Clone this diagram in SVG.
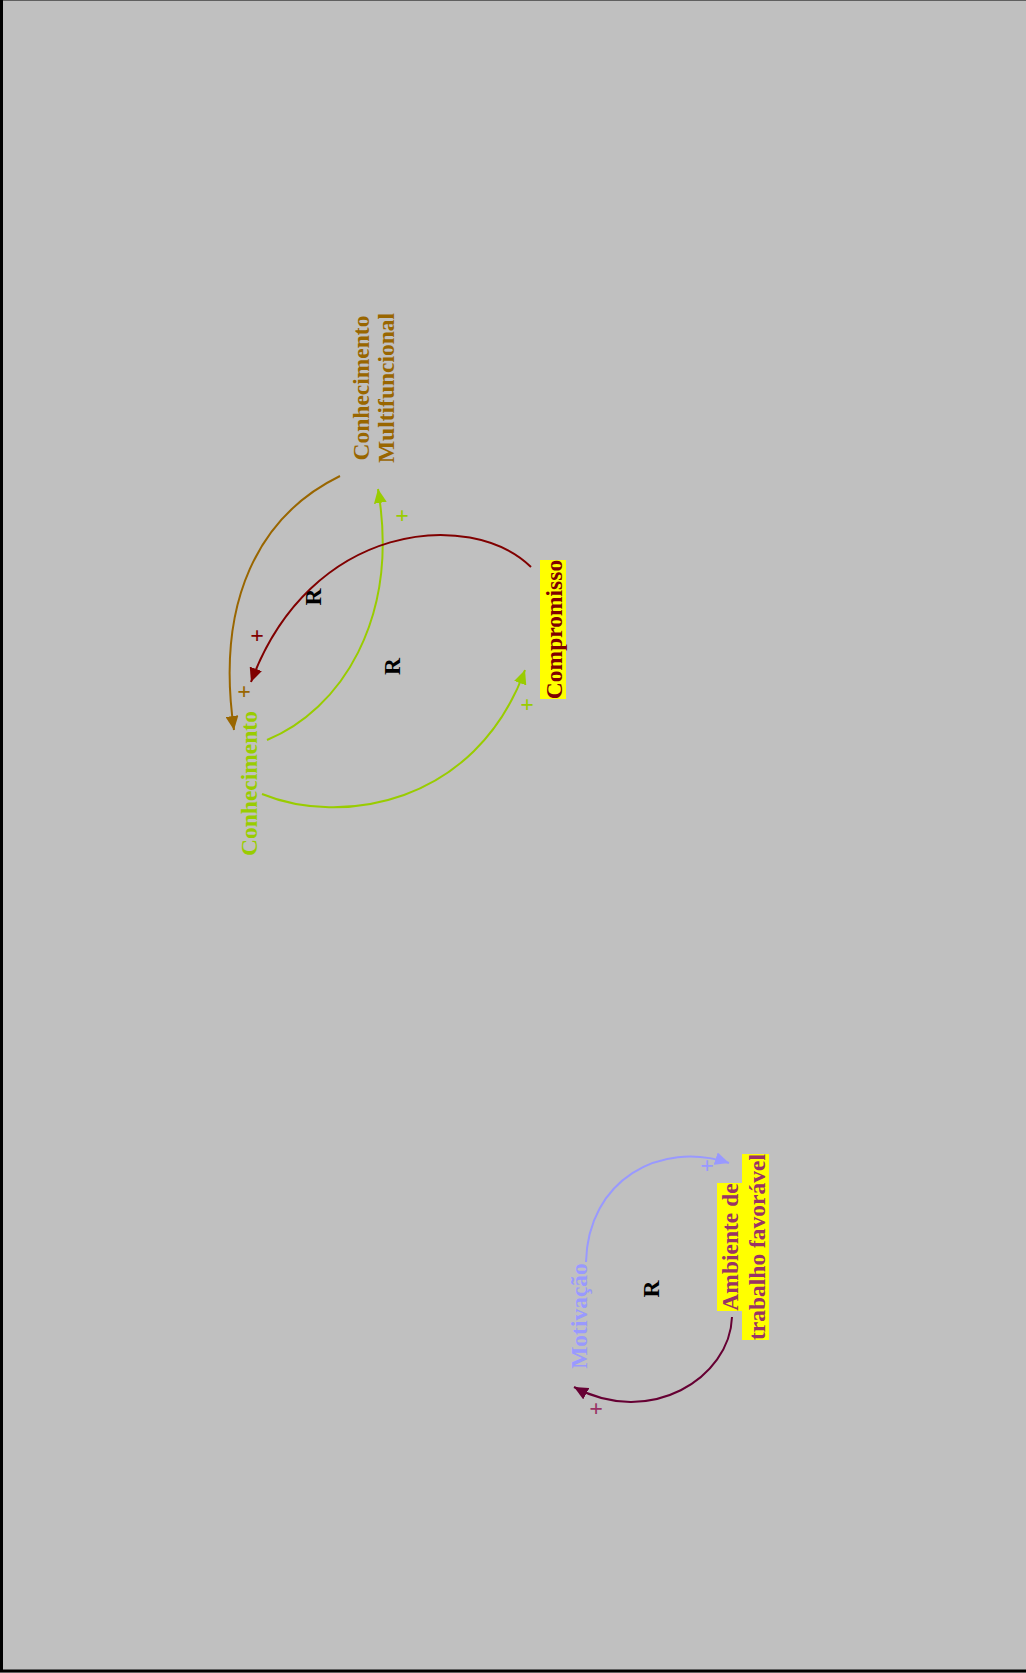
<svg xmlns="http://www.w3.org/2000/svg" width="1026" height="1673" viewBox="0 0 1026 1673">
<style>
.lbl{font-family:"Liberation Serif","Times New Roman",serif;font-weight:bold;font-size:23.5px;text-anchor:middle}
.pl{font-family:"Liberation Serif","Times New Roman",serif;font-weight:bold;font-size:24px;text-anchor:middle}
.arc{fill:none;stroke-width:2}
</style>
<defs>
<marker id="mBrown" markerUnits="userSpaceOnUse" markerWidth="15" markerHeight="13" refX="14" refY="6.5" orient="auto"><path d="M0,0 L14,6.5 L0,13 z" fill="#996600"/></marker>
<marker id="mRed" markerUnits="userSpaceOnUse" markerWidth="15" markerHeight="13" refX="14" refY="6.5" orient="auto"><path d="M0,0 L14,6.5 L0,13 z" fill="#800000"/></marker>
<marker id="mGreen" markerUnits="userSpaceOnUse" markerWidth="15" markerHeight="13" refX="14" refY="6.5" orient="auto"><path d="M0,0 L14,6.5 L0,13 z" fill="#99CC00"/></marker>
<marker id="mBlue" markerUnits="userSpaceOnUse" markerWidth="15" markerHeight="13" refX="14" refY="6.5" orient="auto"><path d="M0,0 L14,6.5 L0,13 z" fill="#9999FF"/></marker>
<marker id="mPurple" markerUnits="userSpaceOnUse" markerWidth="15" markerHeight="13" refX="14" refY="6.5" orient="auto"><path d="M0,0 L14,6.5 L0,13 z" fill="#660033"/></marker>
</defs>
<rect x="0" y="0" width="1026" height="1673" fill="#C0C0C0"/>
<rect x="1.5" y="-1" width="1100" height="1672" fill="none" stroke="#000" stroke-width="3"/>

<g id="connectors">
<path class="arc" stroke="#996600" marker-end="url(#mBrown)" d="M340,476 C260,515 215,600 234,730"/>
<path class="arc" stroke="#99CC00" marker-end="url(#mGreen)" d="M267,740 C340,710 400,620 378,489"/>
<path class="arc" stroke="#800000" marker-end="url(#mRed)" d="M531,567 C470,508 310,522 251,682"/>
<path class="arc" stroke="#99CC00" marker-end="url(#mGreen)" d="M262,794 C340,826 475,806 525,670"/>
<path class="arc" stroke="#9999FF" marker-end="url(#mBlue)" d="M586,1262 C588,1180 660,1140 729,1163"/>
<path class="arc" stroke="#660033" marker-end="url(#mPurple)" d="M732,1317 C730,1378 650,1428 574,1387"/>
<text class="pl" fill="#996600" x="244" y="699">+</text>
<text class="pl" fill="#800000" x="257" y="643">+</text>
<text class="pl" fill="#99CC00" x="527" y="712">+</text>
<text class="pl" fill="#99CC00" x="402" y="523">+</text>
<text class="pl" fill="#9999FF" x="707" y="1173">+</text>
<text class="pl" fill="#993366" x="596" y="1416">+</text>
</g>

<g id="loop-labels">
<text class="lbl" fill="#000" transform="translate(321,597) rotate(-90)">R</text>
<text class="lbl" fill="#000" transform="translate(400,666.5) rotate(-90)">R</text>
<text class="lbl" fill="#000" transform="translate(659,1289) rotate(-90)">R</text>
</g>

<g id="node-conhecimento-multifuncional">
<text class="lbl" fill="#996600" transform="translate(369,388) rotate(-90)">Conhecimento</text>
<text class="lbl" fill="#996600" transform="translate(394,388) rotate(-90)">Multifuncional</text>
</g>

<g id="node-compromisso">
<rect x="540" y="560" width="26" height="139" fill="#FFFF00"/>
<text class="lbl" fill="#800000" transform="translate(562,629.5) rotate(-90)">Compromisso</text>
</g>

<g id="node-conhecimento">
<text class="lbl" fill="#99CC00" transform="translate(257,783.5) rotate(-90)">Conhecimento</text>
</g>

<g id="node-motivacao">
<text class="lbl" fill="#9999FF" transform="translate(587,1316) rotate(-90)">Motivação</text>
</g>

<g id="node-ambiente">
<rect x="717" y="1183" width="25" height="128" fill="#FFFF00"/>
<rect x="742" y="1154" width="27" height="186" fill="#FFFF00"/>
<text class="lbl" fill="#993366" transform="translate(738,1247) rotate(-90)">Ambiente de</text>
<text class="lbl" fill="#993366" transform="translate(765,1247) rotate(-90)">trabalho favorável</text>
</g>
</svg>
